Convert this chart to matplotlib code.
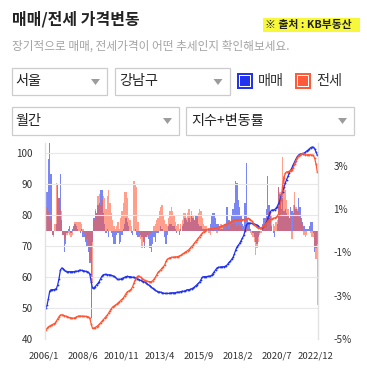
import matplotlib
matplotlib.use('Agg')
import matplotlib.pyplot as plt
from matplotlib.patches import Rectangle, Polygon
import matplotlib.transforms as mtransforms
import numpy as np

plt.rcParams['font.family'] = ['Noto Sans CJK KR', 'DejaVu Sans']

# ---------------- data ----------------
tick_pos = [0, 29, 58, 87, 116, 145, 174, 203]
tick_labels = ['2006/1', '2008/6', '2010/11', '2013/4', '2015/9', '2018/2', '2020/7', '2022/12']

# 매매 index (monthly, 2006/1 - 2022/12)
maemae_idx = [
    50.0, 51.0, 53.0, 55.5, 56.0, 56.0, 56.0, 56.1, 56.3, 57.6,
    59.6, 62.3, 63.0, 62.8, 62.3, 61.9, 61.8, 61.8, 61.8, 61.8,
    61.8, 61.8, 61.9, 61.9, 62.0, 62.2, 62.3, 62.2, 62.1, 62.0,
    61.9, 61.8, 61.6, 61.0, 58.5, 56.5, 56.6, 57.0, 57.5, 58.0,
    58.6, 59.5, 60.3, 60.8, 60.9, 60.9, 60.8, 60.8, 60.8, 60.6,
    60.5, 60.3, 60.0, 59.6, 59.3, 59.3, 59.4, 59.6, 59.8, 60.0,
    60.2, 60.3, 60.2, 60.2, 60.1, 60.0, 60.0, 59.8, 59.6, 59.4,
    59.2, 59.0, 58.8, 58.6, 58.5, 58.2, 57.8, 57.5, 57.2, 56.8,
    56.4, 56.1, 55.8, 55.5, 55.3, 55.3, 55.2, 55.0, 54.9, 54.8,
    54.8, 54.8, 54.8, 54.9, 55.0, 55.0, 55.0, 55.0, 55.2, 55.2,
    55.2, 55.4, 55.5, 55.5, 55.6, 55.8, 56.0, 56.0, 56.1, 56.3,
    56.5, 56.8, 57.2, 57.6, 58.0, 58.4, 59.2, 60.0, 60.2, 60.2,
    60.2, 60.3, 60.3, 60.4, 60.6, 61.2, 61.8, 62.4, 63.0, 63.2,
    63.3, 63.3, 63.4, 63.4, 63.5, 63.7, 64.2, 64.8, 65.2, 65.8,
    66.4, 67.5, 68.8, 69.8, 70.3, 71.0, 71.8, 72.6, 73.5, 75.0,
    76.8, 77.4, 77.5, 77.4, 77.4, 77.3, 77.2, 77.0, 76.8, 76.5,
    76.0, 75.8, 75.9, 76.5, 77.0, 77.8, 79.0, 80.2, 81.2, 81.7,
    81.7, 81.8, 82.2, 82.8, 83.8, 84.8, 86.2, 87.6, 89.0, 90.3,
    91.5, 92.5, 93.6, 94.5, 95.3, 96.3, 97.2, 98.1, 98.9, 99.4,
    99.7, 99.8, 99.9, 100.0, 100.3, 100.7, 101.0, 101.4, 101.8, 102.0,
    101.9, 101.5, 100.4, 99.4,
]

# 전세 index
jeonse_idx = [
    43.0, 43.5, 44.0, 44.3, 44.5, 44.7, 45.0, 45.2, 45.8, 46.6,
    47.3, 47.8, 47.9, 47.8, 47.6, 47.5, 47.3, 47.1, 47.0, 46.9,
    46.8, 46.8, 47.0, 47.2, 47.4, 47.5, 47.5, 47.5, 47.4, 47.4,
    47.4, 47.3, 47.2, 46.8, 45.0, 43.5, 43.6, 43.8, 44.1, 44.4,
    44.8, 45.3, 45.8, 46.3, 46.8, 47.3, 47.8, 48.4, 49.2, 49.8,
    50.4, 50.7, 51.0, 51.3, 51.7, 52.1, 52.5, 52.9, 53.3, 54.0,
    54.7, 55.3, 55.6, 55.8, 56.2, 57.0, 58.2, 59.2, 60.0, 60.4,
    60.3, 60.0, 59.6, 59.3, 59.0, 58.8, 58.7, 58.6, 58.6, 58.6,
    58.9, 59.4, 60.0, 60.8, 61.6, 62.0, 62.4, 63.0, 63.4, 64.0,
    65.2, 65.8, 66.1, 66.3, 66.4, 66.5, 66.5, 66.6, 66.6, 66.7,
    66.9, 67.1, 67.4, 67.7, 68.0, 68.3, 68.6, 68.9, 69.4, 69.9,
    70.3, 70.9, 71.5, 72.0, 72.6, 73.1, 73.7, 74.2, 74.6, 75.0,
    75.3, 75.5, 75.6, 75.6, 75.6, 75.7, 75.8, 75.9, 76.0, 76.1,
    76.2, 76.4, 76.6, 76.8, 77.0, 77.2, 77.4, 77.6, 77.8, 78.0,
    78.2, 78.4, 78.5, 78.5, 78.6, 78.6, 78.7, 78.6, 78.6, 78.7,
    78.9, 79.0, 78.9, 78.6, 78.2, 77.6, 77.0, 76.5, 76.1, 76.0,
    76.0, 76.0, 76.2, 76.6, 77.0, 77.5, 78.0, 78.3, 78.6, 78.8,
    79.0, 79.1, 79.3, 79.6, 80.5, 82.0, 85.0, 89.5, 92.0, 93.5,
    94.0, 94.0, 94.2, 94.4, 94.6, 95.2, 96.5, 97.6, 98.5, 99.1,
    99.4, 99.8, 100.0, 99.8, 99.5, 99.5, 99.5, 99.5, 99.5, 99.4,
    99.3, 98.4, 96.5, 94.0,
]

# 매매 monthly change (%)
maemae_chg = [
    2.2, 1.8, 3.3, 4.2, 2.6, -0.2, -0.2, 0.0, 0.3, 2.1, 1.5, 2.6,
    0.5, -0.2, -1.0, -0.6, -0.1, 0.1, 0.2, -0.1, 0.1, 0.2, 0.3, 0.2,
    0.1, 0.0, -0.1, 0.1, -0.3, -0.3, -0.5, -0.7, -1.0, -1.5, -4.0, -0.5,
    0.6, 0.9, 0.8, 1.2, 1.3, 1.9, 1.9, 0.8, 0.3, -0.1, 0.1, -0.3,
    0.0, -0.1, -0.3, -0.6, -0.6, -0.2, -0.1, -0.6, -0.5, -0.2, 0.1, 0.3,
    0.6, 0.4, 0.2, 0.0, -0.1, -0.2, 0.0, 0.1, -0.2, -0.3, -0.3, -0.2,
    -0.3, -0.5, -0.8, -0.3, -0.2, -0.4, -0.8, -1.0, -0.6, -0.3, -0.5, -0.1,
    -0.1, 0.0, 0.2, 0.1, 0.0, -0.3, -0.6, -0.2, 0.2, 0.3, 0.3, 0.2,
    0.2, 0.1, -0.1, 0.0, -0.2, 0.1, 0.2, 0.3, 0.6, 0.5, 0.4, 0.6,
    0.4, 0.7, 0.6, 0.5, 0.7, 0.7, 0.3, 0.2, 0.2, 0.1, 0.1, 0.1,
    0.1, 0.0, 0.1, 0.3, 0.7, 0.8, 0.8, 0.6, 0.3, 0.3, 0.2, 0.1,
    0.1, 0.2, 0.3, 1.1, 1.1, 0.5, 0.4, 0.7, 1.0, 1.3, 2.3, 2.2,
    1.4, 1.1, 0.7, 0.3, 0.2, 1.3, 3.1, 0.6, 0.3, 0.1, 0.0, -0.1,
    -0.3, -0.5, -0.6, -0.3, -0.1, 0.0, 0.3, 0.6, 0.6, 1.0, 2.5, 1.2,
    0.9, 0.2, -0.1, -0.3, 0.0, 0.3, 2.0, 1.7, 1.0, 1.5, 0.9, 1.0,
    0.8, 0.7, 0.6, 1.1, 0.9, 0.8, 1.2, 1.0, 0.9, 1.5, 1.1, 0.6,
    0.4, 0.2, 0.1, 0.1, 0.1, 0.2, 0.4, 0.4, -0.1, -1.0, -0.8, -0.6,
]

# 전세 monthly change (%)
jeonse_chg = [
    0.9, 1.1, 0.9, 0.6, 0.5, -0.2, -0.3, 0.3, 2.2, 1.9, 1.5, 1.0,
    0.9, -0.2, -0.4, -0.3, -0.2, -0.1, -0.2, -0.3, -0.2, 0.2, 0.4, 0.4,
    0.4, 0.4, 0.4, 0.3, 0.1, -0.1, -0.3, -0.4, -0.8, -1.4, -4.0, -2.4,
    0.5, 1.0, 0.8, 1.6, 1.7, 1.2, 1.4, 1.6, 1.5, 1.0, 1.6, 1.9,
    1.3, 0.8, 0.5, 0.2, 0.1, 0.2, 0.4, 0.1, 0.6, 0.9, 1.3, 1.8,
    1.8, 1.5, 0.6, 0.5, 0.2, 0.0, 2.3, 2.1, 2.0, 0.4, -0.1, -0.4,
    -0.8, -0.4, -0.6, -0.3, -0.3, -0.2, -0.1, -0.1, 0.0, 0.2, 0.3, 0.5,
    0.6, 0.9, 1.1, 1.2, 0.7, 0.5, 0.3, 0.2, 0.6, 0.9, 1.1, 0.9,
    0.7, 0.4, 0.2, 0.3, 0.1, 0.3, 0.5, 0.8, 0.8, 0.6, 0.8, 1.0,
    0.7, 0.9, 0.7, 0.5, 0.7, 0.6, 0.8, 1.0, 0.9, 0.6, 0.3, 0.2,
    0.2, 0.1, -0.1, -0.2, 0.0, 0.1, 0.0, 0.1, -0.1, 0.1, 0.2, 0.3,
    0.2, 0.1, 0.1, 0.2, 0.3, 0.1, 0.3, 0.4, 0.3, 0.4, 0.3, 0.2,
    0.3, 0.2, 0.2, 0.1, 0.0, 0.1, 0.2, 0.1, 0.1, -0.1, -0.2, -0.3,
    -0.5, -1.1, -0.8, -0.5, -0.2, -0.1, 0.1, 0.2, 0.3, 0.6, 0.8, 0.9,
    0.8, 0.7, 0.3, 0.2, 0.4, 0.5, 2.0, 1.8, 1.7, 3.4, 2.5, 1.9,
    1.4, 1.0, 0.6, 0.7, -0.4, 1.2, 1.8, 1.1, 1.0, 0.9, 0.6, 0.4,
    0.3, -0.2, -0.3, -0.2, 0.0, 0.0, -0.1, -0.3, -0.3, -0.8, -1.3, -3.4,
]

region_sel = '서울'
district_sel = '강남구'
period_sel = '월간'
mode_sel = '지수+변동률'
series_names = ['매매', '전세']

BLUE = '#2233ee'
ORANGE = '#ff5a3a'

# ---------------- figure ----------------
W, H = 367, 376
fig = plt.figure(figsize=(W / 100, H / 100), dpi=100)


def fx(x):
    return x / W


def fy(y):
    return 1 - y / H


def rect(x, y, w, h, **kw):
    fig.patches.append(Rectangle((fx(x), fy(y + h)), w / W, h / H,
                                 transform=fig.transFigure, figure=fig, **kw))


def tri(cx, cy, w=9, h=6, color='#9c9c9c'):
    pts = [(fx(cx - w / 2), fy(cy - h / 2)), (fx(cx + w / 2), fy(cy - h / 2)),
           (fx(cx), fy(cy + h / 2))]
    fig.patches.append(Polygon(pts, closed=True, transform=fig.transFigure,
                               figure=fig, facecolor=color, lw=0))


def txt(x, y, s, **kw):
    kw.setdefault('ha', 'left')
    kw.setdefault('va', 'center')
    fig.text(fx(x), fy(y), s, **kw)


# header
txt(12, 19.5, '매매/전세 가격변동', fontsize=11.5, fontweight='bold', color='#222222')
rect(263, 18.5, 97, 13.5, facecolor='#f8f83a', lw=0)
txt(265, 25, '※ 출처 : KB부동산', fontsize=7.8, fontweight='bold', color='#222222')
txt(12, 46.5, '장기적으로 매매, 전세가격이 어떤 추세인지 확인해보세요.',
    fontsize=8.4, color='#a3a3a3')

# dropdown boxes
box_kw = dict(facecolor='white', edgecolor='#cccccc', lw=0.9)
rect(12, 68, 94.5, 27, **box_kw)
rect(114.5, 68, 115.5, 27, **box_kw)
rect(12, 107, 167, 28, **box_kw)
rect(186, 107, 168, 28, **box_kw)
tri(95.5, 82)
tri(218, 82)
tri(167.5, 121)
tri(342.5, 121)
txt(15.5, 81.5, region_sel, fontsize=10.2, color='#222222')
txt(119.5, 81.5, district_sel, fontsize=10.2, color='#222222')
txt(15.5, 121, period_sel, fontsize=10.2, color='#222222')
txt(191.5, 121, mode_sel, fontsize=10.2, color='#222222')

# legend squares
for (lx, col, name) in [(237, BLUE, series_names[0]), (295, ORANGE, series_names[1])]:
    rect(lx, 73, 16, 16, facecolor=col, lw=0)
    rect(lx + 2, 75, 12, 12, facecolor='white', lw=0)
    rect(lx + 3, 76, 10, 10, facecolor=col, lw=0)
    txt(lx + 21, 81.5, name, fontsize=10.2, color='#333333')

# ---------------- chart ----------------
top_px, bot_px, left_px, right_px = 143.0, 339.3, 45.0, 318.0
ax = fig.add_axes([left_px / W, fy(bot_px), (right_px - left_px) / W, (bot_px - top_px) / H])
ax2 = ax.twinx()
ax.set_zorder(ax2.get_zorder() + 1)
ax.patch.set_visible(False)

x = np.arange(len(maemae_idx))
ax2.bar(x, maemae_chg, width=1.0, color='#2a3cf0', alpha=0.62, lw=0)
ax2.bar(x, jeonse_chg, width=1.0, color=ORANGE, alpha=0.58, lw=0)

ax.plot(x, maemae_idx, color=BLUE, lw=0.9, marker='o', ms=1.3, mew=0)
ax.plot(x, jeonse_idx, color='#ff5533', lw=0.9, marker='o', ms=1.3, mew=0)

ymin, ymax = 40, 103.3
ax.set_ylim(ymin, ymax)
ax2.set_ylim((ymin - 75) / 7, (ymax - 75) / 7)
ax.set_xlim(-0.5, len(x) - 0.5)

ax.set_yticks([40, 50, 60, 70, 80, 90, 100])
ax2.set_yticks([-5, -3, -1, 1, 3])
ax2.set_yticklabels([f'{v}%' for v in [-5, -3, -1, 1, 3]])
ax.set_xticks(tick_pos)
ax.set_xticklabels(tick_labels)

ax.grid(axis='y', color='#e8e8e8', lw=0.8)
ax.grid(axis='x', visible=False)
for s in ['top', 'bottom']:
    ax.spines[s].set_visible(False)
for s in ['left', 'right']:
    ax.spines[s].set_color('#e2e2e2')
    ax.spines[s].set_linewidth(1.0)
for s in ax2.spines.values():
    s.set_visible(False)

ax.tick_params(axis='y', length=0, pad=9, labelsize=7.2, labelcolor='#333333')
ax.tick_params(axis='x', length=0, pad=9, labelsize=6.9, labelcolor='#333333')
ax2.tick_params(axis='y', length=0, pad=11, labelsize=7.2, labelcolor='#333333')

offset = mtransforms.ScaledTranslation(-2 / 100, 0, fig.dpi_scale_trans)
for lab in ax.get_xticklabels():
    lab.set_transform(lab.get_transform() + offset)

fig.savefig('out.png', dpi=100)
